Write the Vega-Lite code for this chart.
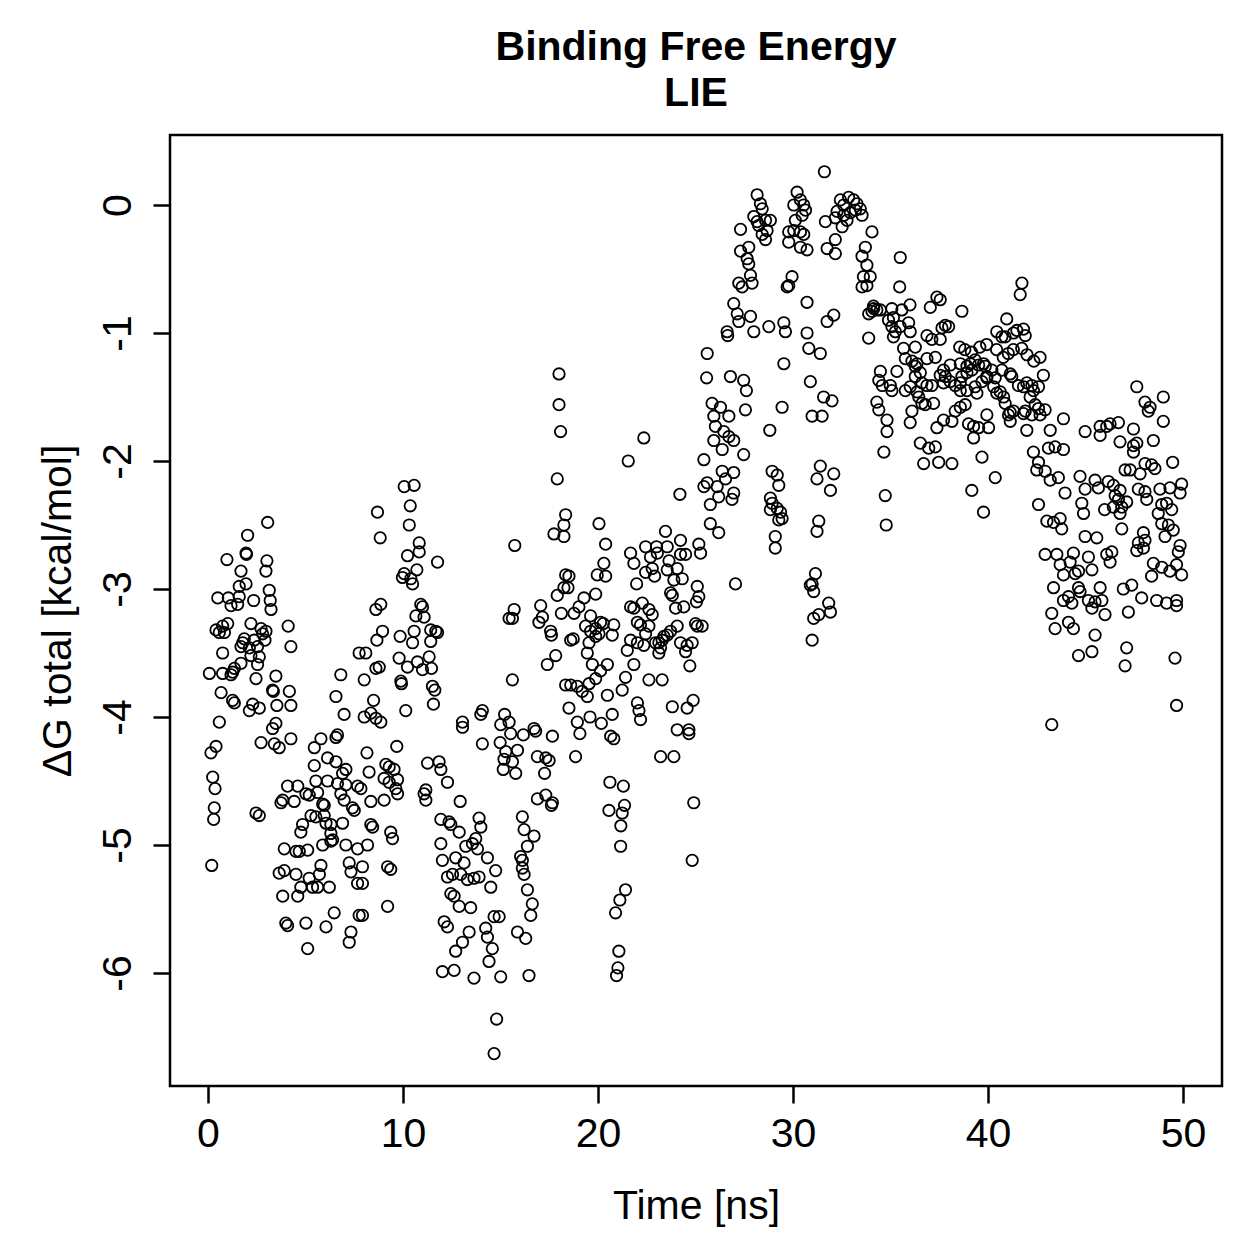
{
"$schema":"https://vega.github.io/schema/vega-lite/v6.json",
"width":1052,"height":951,
"autosize":{"type":"none"},
"padding":{"left":170,"top":135,"right":37,"bottom":173},
"background":"white",
"title":{"text":["Binding Free Energy","LIE"],"fontSize":41,"fontWeight":"bold","font":"Liberation Sans","color":"black","anchor":"middle","frame":"group","lineHeight":46,"offset":20},
"data":{"values":[
{"t":3.06,"g":-2.48},{"t":2.03,"g":-2.58},{"t":1.95,"g":-2.72},{"t":1.97,"g":-2.73},{"t":0.97,"g":-2.77},{"t":3.02,"g":-2.78},{"t":1.69,"g":-2.86},{"t":2.97,"g":-2.86},{"t":1.6,"g":-2.98},{"t":1.95,"g":-2.96},{"t":3.14,"g":-3.01},{"t":0.5,"g":-3.07},{"t":1.04,"g":-3.07},{"t":1.18,"g":-3.13},{"t":1.52,"g":-3.12},{"t":1.6,"g":-3.06},{"t":2.34,"g":-3.09},{"t":3.19,"g":-3.09},{"t":3.23,"g":-3.16},{"t":4.11,"g":-3.29},{"t":4.25,"g":-3.45},{"t":0.41,"g":-3.32},{"t":0.75,"g":-3.29},{"t":0.84,"g":-3.34},{"t":1.01,"g":-3.27},{"t":0.58,"g":-3.34},{"t":2.2,"g":-3.27},{"t":2.72,"g":-3.31},{"t":2.8,"g":-3.35},{"t":2.97,"g":-3.33},{"t":2.92,"g":-3.4},{"t":1.86,"g":-3.39},{"t":1.78,"g":-3.42},{"t":1.69,"g":-3.45},{"t":2.12,"g":-3.46},{"t":2.37,"g":-3.4},{"t":2.54,"g":-3.45},{"t":0.75,"g":-3.5},{"t":2.2,"g":-3.52},{"t":2.63,"g":-3.53},{"t":2.54,"g":-3.59},{"t":0.07,"g":-3.66},{"t":0.75,"g":-3.66},{"t":1.26,"g":-3.65},{"t":1.35,"g":-3.62},{"t":1.69,"g":-3.58},{"t":1.18,"g":-3.67},{"t":2.46,"g":-3.7},{"t":3.48,"g":-3.68},{"t":3.31,"g":-3.79},{"t":3.35,"g":-3.8},{"t":4.17,"g":-3.8},{"t":4.25,"g":-3.91},{"t":0.67,"g":-3.81},{"t":1.26,"g":-3.87},{"t":1.35,"g":-3.89},{"t":2.12,"g":-3.95},{"t":2.29,"g":-3.9},{"t":2.63,"g":-3.93},{"t":3.53,"g":-3.91},{"t":0.58,"g":-4.04},{"t":3.31,"g":-4.09},{"t":3.48,"g":-4.05},{"t":2.72,"g":-4.2},{"t":3.4,"g":-4.21},{"t":3.65,"g":-4.24},{"t":4.25,"g":-4.17},{"t":0.41,"g":-4.23},{"t":0.15,"g":-4.28},{"t":0.24,"g":-4.47},{"t":0.36,"g":-4.56},{"t":0.32,"g":-4.71},{"t":0.29,"g":-4.8},{"t":2.46,"g":-4.75},{"t":2.63,"g":-4.77},{"t":0.19,"g":-5.16},
{"t":6.81,"g":-3.67},{"t":7.75,"g":-3.5},{"t":6.56,"g":-3.84},{"t":6.98,"g":-3.98},{"t":6.64,"g":-4.14},{"t":6.56,"g":-4.16},{"t":5.79,"g":-4.17},{"t":5.45,"g":-4.24},{"t":5.45,"g":-4.38},{"t":6.13,"g":-4.32},{"t":6.56,"g":-4.35},{"t":7.07,"g":-4.41},{"t":6.9,"g":-4.44},{"t":6.64,"g":-4.52},{"t":7.07,"g":-4.53},{"t":6.13,"g":-4.5},{"t":5.53,"g":-4.5},{"t":4.08,"g":-4.54},{"t":4.6,"g":-4.54},{"t":5.02,"g":-4.6},{"t":5.19,"g":-4.61},{"t":5.62,"g":-4.59},{"t":3.83,"g":-4.65},{"t":3.74,"g":-4.67},{"t":4.42,"g":-4.66},{"t":5.88,"g":-4.68},{"t":6.98,"g":-4.65},{"t":6.81,"g":-4.6},{"t":7.41,"g":-4.71},{"t":7.5,"g":-4.73},{"t":7.67,"g":-4.54},{"t":5.96,"g":-4.69},{"t":5.28,"g":-4.77},{"t":5.53,"g":-4.78},{"t":5.96,"g":-4.77},{"t":6.05,"g":-4.83},{"t":6.3,"g":-4.84},{"t":6.9,"g":-4.83},{"t":4.85,"g":-4.84},{"t":4.76,"g":-4.9},{"t":6.3,"g":-4.91},{"t":6.39,"g":-4.96},{"t":5.88,"g":-5.0},{"t":6.3,"g":-4.97},{"t":3.91,"g":-5.03},{"t":4.51,"g":-5.05},{"t":4.68,"g":-5.05},{"t":5.11,"g":-5.04},{"t":7.07,"g":-5.0},{"t":7.24,"g":-5.14},{"t":7.33,"g":-5.21},{"t":7.67,"g":-5.03},{"t":7.67,"g":-5.3},{"t":3.65,"g":-5.22},{"t":3.91,"g":-5.2},{"t":4.51,"g":-5.23},{"t":4.76,"g":-5.33},{"t":5.19,"g":-5.26},{"t":5.36,"g":-5.33},{"t":5.79,"g":-5.16},{"t":5.71,"g":-5.23},{"t":5.62,"g":-5.33},{"t":6.22,"g":-5.33},{"t":3.83,"g":-5.4},{"t":4.6,"g":-5.4},{"t":6.47,"g":-5.53},{"t":5.02,"g":-5.61},{"t":3.99,"g":-5.61},{"t":4.08,"g":-5.63},{"t":6.05,"g":-5.64},{"t":7.33,"g":-5.68},{"t":7.24,"g":-5.76},{"t":5.11,"g":-5.81},{"t":7.75,"g":-5.55},
{"t":10.06,"g":-2.2},{"t":10.57,"g":-2.19},{"t":8.69,"g":-2.4},{"t":10.37,"g":-2.35},{"t":10.32,"g":-2.5},{"t":8.83,"g":-2.6},{"t":10.83,"g":-2.64},{"t":10.83,"g":-2.71},{"t":10.23,"g":-2.74},{"t":11.77,"g":-2.79},{"t":10.71,"g":-2.85},{"t":10.06,"g":-2.88},{"t":9.97,"g":-2.91},{"t":10.49,"g":-2.96},{"t":10.4,"g":-2.92},{"t":15.73,"g":-2.66},{"t":8.61,"g":-3.16},{"t":8.86,"g":-3.12},{"t":10.91,"g":-3.12},{"t":11.0,"g":-3.14},{"t":10.66,"g":-3.21},{"t":11.08,"g":-3.22},{"t":15.44,"g":-3.23},{"t":15.7,"g":-3.16},{"t":15.61,"g":-3.23},{"t":8.95,"g":-3.33},{"t":8.66,"g":-3.4},{"t":9.85,"g":-3.37},{"t":10.57,"g":-3.33},{"t":11.42,"g":-3.32},{"t":11.68,"g":-3.33},{"t":11.77,"g":-3.34},{"t":10.49,"g":-3.42},{"t":11.42,"g":-3.41},{"t":8.09,"g":-3.5},{"t":8.61,"g":-3.62},{"t":8.78,"g":-3.61},{"t":8.01,"g":-3.71},{"t":9.8,"g":-3.54},{"t":10.23,"g":-3.61},{"t":10.74,"g":-3.57},{"t":11.0,"g":-3.63},{"t":11.34,"g":-3.53},{"t":11.46,"g":-3.62},{"t":9.89,"g":-3.72},{"t":9.92,"g":-3.74},{"t":11.51,"g":-3.76},{"t":11.63,"g":-3.79},{"t":11.56,"g":-3.9},{"t":10.14,"g":-3.95},{"t":15.61,"g":-3.71},{"t":8.49,"g":-3.87},{"t":8.35,"g":-3.97},{"t":8.61,"g":-4.01},{"t":8.86,"g":-4.04},{"t":8.01,"g":-4.0},{"t":13.05,"g":-4.04},{"t":13.05,"g":-4.08},{"t":14.07,"g":-3.95},{"t":13.99,"g":-3.98},{"t":15.21,"g":-3.98},{"t":15.44,"g":-4.04},{"t":15.01,"g":-4.06},{"t":15.52,"g":-4.13},{"t":16.17,"g":-4.14},{"t":16.72,"g":-4.09},{"t":16.8,"g":-4.11},{"t":14.07,"g":-4.21},{"t":14.98,"g":-4.2},{"t":15.27,"g":-4.27},{"t":15.87,"g":-4.26},{"t":15.18,"g":-4.33},{"t":15.61,"g":-4.35},{"t":15.14,"g":-4.41},{"t":15.78,"g":-4.44},{"t":8.15,"g":-4.28},{"t":9.68,"g":-4.23},{"t":8.26,"g":-4.43},{"t":9.12,"g":-4.37},{"t":9.29,"g":-4.39},{"t":9.54,"g":-4.41},{"t":9.03,"g":-4.48},{"t":9.29,"g":-4.51},{"t":9.72,"g":-4.49},{"t":9.63,"g":-4.56},{"t":9.72,"g":-4.6},{"t":9.03,"g":-4.65},{"t":8.35,"g":-4.66},{"t":7.84,"g":-4.56},{"t":11.26,"g":-4.36},{"t":11.85,"g":-4.35},{"t":11.94,"g":-4.41},{"t":12.28,"g":-4.51},{"t":11.17,"g":-4.57},{"t":11.17,"g":-4.65},{"t":12.93,"g":-4.66},{"t":11.08,"g":-4.6},{"t":8.35,"g":-4.84},{"t":8.44,"g":-4.86},{"t":9.37,"g":-4.9},{"t":9.46,"g":-4.95},{"t":8.18,"g":-5.0},{"t":7.92,"g":-5.17},{"t":7.92,"g":-5.3},{"t":9.21,"g":-5.17},{"t":9.37,"g":-5.19},{"t":9.21,"g":-5.48},{"t":7.92,"g":-5.55},
{"t":11.94,"g":-4.8},{"t":12.36,"g":-4.82},{"t":12.45,"g":-4.84},{"t":12.88,"g":-4.9},{"t":11.94,"g":-4.99},{"t":12.02,"g":-5.12},{"t":12.7,"g":-5.1},{"t":13.13,"g":-5.14},{"t":13.22,"g":-5.01},{"t":13.56,"g":-4.99},{"t":13.73,"g":-4.95},{"t":13.9,"g":-4.79},{"t":13.99,"g":-4.86},{"t":13.82,"g":-5.03},{"t":14.33,"g":-5.1},{"t":14.75,"g":-5.2},{"t":12.28,"g":-5.25},{"t":12.54,"g":-5.23},{"t":12.96,"g":-5.23},{"t":13.3,"g":-5.27},{"t":13.64,"g":-5.26},{"t":13.9,"g":-5.25},{"t":14.5,"g":-5.33},{"t":12.45,"g":-5.38},{"t":12.62,"g":-5.4},{"t":12.88,"g":-5.48},{"t":13.47,"g":-5.49},{"t":12.11,"g":-5.6},{"t":12.28,"g":-5.64},{"t":13.05,"g":-5.76},{"t":13.39,"g":-5.68},{"t":12.7,"g":-5.83},{"t":14.24,"g":-5.65},{"t":14.33,"g":-5.72},{"t":14.58,"g":-5.81},{"t":14.41,"g":-5.91},{"t":14.67,"g":-5.56},{"t":14.93,"g":-5.56},{"t":12.02,"g":-5.99},{"t":12.62,"g":-5.98},{"t":13.64,"g":-6.04},{"t":15.01,"g":-6.03},{"t":15.87,"g":-5.68},{"t":16.29,"g":-5.73},{"t":16.46,"g":-6.02},{"t":16.12,"g":-4.78},{"t":16.21,"g":-4.88},{"t":16.03,"g":-5.09},{"t":16.12,"g":-5.12},{"t":16.38,"g":-5.01},{"t":16.72,"g":-4.93},{"t":16.38,"g":-5.35},{"t":16.63,"g":-5.46},{"t":16.55,"g":-5.55},{"t":16.12,"g":-5.18},{"t":16.21,"g":-5.23},{"t":14.8,"g":-6.36},{"t":14.67,"g":-6.63},
{"t":18.0,"g":-1.32},{"t":18.0,"g":-1.56},{"t":18.08,"g":-1.77},{"t":22.35,"g":-1.82},{"t":21.55,"g":-2.0},{"t":17.91,"g":-2.14},{"t":24.2,"g":-2.26},{"t":18.34,"g":-2.42},{"t":18.25,"g":-2.5},{"t":17.74,"g":-2.57},{"t":18.25,"g":-2.59},{"t":20.05,"g":-2.49},{"t":20.39,"g":-2.65},{"t":23.46,"g":-2.55},{"t":24.23,"g":-2.62},{"t":25.17,"g":-2.65},{"t":25.26,"g":-2.72},{"t":21.67,"g":-2.72},{"t":21.84,"g":-2.8},{"t":22.44,"g":-2.67},{"t":23.0,"g":-2.67},{"t":22.69,"g":-2.75},{"t":23.04,"g":-2.72},{"t":23.55,"g":-2.67},{"t":23.64,"g":-2.78},{"t":24.23,"g":-2.73},{"t":24.49,"g":-2.73},{"t":22.78,"g":-2.84},{"t":22.9,"g":-2.9},{"t":22.44,"g":-2.87},{"t":23.55,"g":-2.85},{"t":24.06,"g":-2.84},{"t":24.32,"g":-2.92},{"t":23.89,"g":-2.93},{"t":20.3,"g":-2.8},{"t":19.96,"g":-2.89},{"t":20.39,"g":-2.9},{"t":18.34,"g":-2.89},{"t":18.51,"g":-2.9},{"t":18.25,"g":-2.99},{"t":18.46,"g":-2.99},{"t":17.91,"g":-3.05},{"t":19.28,"g":-3.07},{"t":19.88,"g":-3.04},{"t":19.02,"g":-3.14},{"t":18.77,"g":-3.19},{"t":18.12,"g":-3.19},{"t":21.98,"g":-2.96},{"t":23.81,"g":-3.05},{"t":23.72,"g":-3.03},{"t":23.98,"g":-3.15},{"t":24.4,"g":-3.14},{"t":25.09,"g":-2.98},{"t":25.17,"g":-3.06},{"t":25.05,"g":-3.1},{"t":17.06,"g":-3.13},{"t":17.15,"g":-3.22},{"t":16.97,"g":-3.26},{"t":17.57,"g":-3.33},{"t":17.61,"g":-3.36},{"t":18.6,"g":-3.4},{"t":18.73,"g":-3.39},{"t":19.62,"g":-3.21},{"t":20.13,"g":-3.26},{"t":20.27,"g":-3.27},{"t":20.81,"g":-3.28},{"t":19.36,"g":-3.29},{"t":19.62,"g":-3.33},{"t":19.88,"g":-3.31},{"t":20.05,"g":-3.35},{"t":19.88,"g":-3.37},{"t":20.73,"g":-3.36},{"t":19.54,"g":-3.42},{"t":19.45,"g":-3.5},{"t":19.71,"g":-3.59},{"t":20.48,"g":-3.59},{"t":20.13,"g":-3.64},{"t":19.88,"g":-3.7},{"t":19.54,"g":-3.74},{"t":21.67,"g":-3.14},{"t":21.84,"g":-3.15},{"t":22.27,"g":-3.11},{"t":22.61,"g":-3.16},{"t":22.78,"g":-3.2},{"t":22.02,"g":-3.26},{"t":22.18,"g":-3.28},{"t":22.61,"g":-3.29},{"t":22.44,"g":-3.35},{"t":21.67,"g":-3.4},{"t":21.5,"g":-3.48},{"t":21.84,"g":-3.59},{"t":21.41,"g":-3.69},{"t":22.02,"g":-3.42},{"t":22.35,"g":-3.44},{"t":22.95,"g":-3.42},{"t":23.12,"g":-3.42},{"t":23.29,"g":-3.4},{"t":23.38,"g":-3.37},{"t":23.55,"g":-3.36},{"t":23.72,"g":-3.33},{"t":24.06,"g":-3.29},{"t":23.21,"g":-3.46},{"t":23.12,"g":-3.5},{"t":24.23,"g":-3.42},{"t":24.57,"g":-3.44},{"t":24.83,"g":-3.42},{"t":24.49,"g":-3.49},{"t":24.71,"g":-3.6},{"t":25.09,"g":-3.29},{"t":25.34,"g":-3.29},{"t":25.0,"g":-3.27},{"t":17.4,"g":-3.59},{"t":17.83,"g":-3.52},{"t":18.34,"g":-3.75},{"t":18.6,"g":-3.75},{"t":18.94,"g":-3.76},{"t":19.19,"g":-3.8},{"t":19.45,"g":-3.84},{"t":18.51,"g":-3.93},{"t":18.94,"g":-4.04},{"t":19.07,"g":-4.13},{"t":19.59,"g":-4.0},{"t":20.17,"g":-4.05},{"t":20.73,"g":-3.98},{"t":20.48,"g":-3.83},{"t":20.65,"g":-4.15},{"t":20.81,"g":-4.17},{"t":21.24,"g":-3.79},{"t":22.02,"g":-3.89},{"t":22.1,"g":-3.95},{"t":22.18,"g":-4.02},{"t":22.61,"g":-3.71},{"t":23.29,"g":-3.71},{"t":23.81,"g":-3.92},{"t":24.57,"g":-3.93},{"t":24.88,"g":-3.87},{"t":24.06,"g":-4.1},{"t":24.66,"g":-4.1},{"t":24.66,"g":-4.13},{"t":17.66,"g":-4.15},{"t":16.89,"g":-4.31},{"t":17.32,"g":-4.32},{"t":17.49,"g":-4.34},{"t":17.26,"g":-4.44},{"t":18.85,"g":-4.31},{"t":23.21,"g":-4.31},{"t":23.89,"g":-4.31},{"t":20.61,"g":-4.51},{"t":21.3,"g":-4.54},{"t":16.89,"g":-4.64},{"t":17.32,"g":-4.61},{"t":17.66,"g":-4.67},{"t":20.56,"g":-4.73},{"t":21.24,"g":-4.75},{"t":21.36,"g":-4.69},{"t":24.91,"g":-4.67},
{"t":24.83,"g":-5.12},{"t":21.17,"g":-4.85},{"t":21.16,"g":-5.01},{"t":21.41,"g":-5.35},{"t":21.12,"g":-5.43},{"t":20.9,"g":-5.53},{"t":21.07,"g":-5.83},{"t":21.02,"g":-5.96},{"t":20.95,"g":-6.02},{"t":17.61,"g":-4.69},
{"t":31.61,"g":0.26},{"t":28.16,"g":0.08},{"t":28.33,"g":0.01},{"t":28.42,"g":-0.03},{"t":27.99,"g":-0.09},{"t":28.16,"g":-0.13},{"t":28.59,"g":-0.12},{"t":28.24,"g":-0.16},{"t":28.67,"g":-0.2},{"t":28.42,"g":-0.23},{"t":28.59,"g":-0.27},{"t":28.84,"g":-0.12},{"t":27.31,"g":-0.19},{"t":27.73,"g":-0.33},{"t":27.31,"g":-0.36},{"t":27.65,"g":-0.42},{"t":27.73,"g":-0.46},{"t":27.82,"g":-0.55},{"t":27.9,"g":-0.61},{"t":27.22,"g":-0.61},{"t":27.39,"g":-0.64},{"t":26.96,"g":-0.77},{"t":27.14,"g":-0.85},{"t":27.22,"g":-0.91},{"t":27.82,"g":-0.87},{"t":27.99,"g":-0.99},{"t":26.62,"g":-0.99},{"t":26.65,"g":-1.02},{"t":28.76,"g":-0.95},{"t":29.53,"g":-0.92},{"t":29.61,"g":-0.99},{"t":30.21,"g":0.1},{"t":30.04,"g":0.0},{"t":30.38,"g":0.04},{"t":30.55,"g":0.0},{"t":30.64,"g":-0.04},{"t":30.47,"g":-0.08},{"t":30.12,"g":-0.12},{"t":30.04,"g":-0.2},{"t":29.78,"g":-0.21},{"t":30.38,"g":-0.21},{"t":30.55,"g":-0.23},{"t":29.78,"g":-0.29},{"t":30.38,"g":-0.33},{"t":30.72,"g":-0.35},{"t":29.95,"g":-0.56},{"t":29.78,"g":-0.63},{"t":29.7,"g":-0.64},{"t":30.72,"g":-0.76},{"t":31.66,"g":-0.13},{"t":31.75,"g":-0.34},{"t":32.17,"g":-0.27},{"t":32.17,"g":-0.38},{"t":32.43,"g":0.04},{"t":32.6,"g":0.0},{"t":32.85,"g":0.06},{"t":33.11,"g":0.04},{"t":33.28,"g":0.01},{"t":33.45,"g":-0.03},{"t":33.54,"g":-0.08},{"t":32.94,"g":-0.06},{"t":32.6,"g":-0.08},{"t":32.52,"g":-0.17},{"t":32.26,"g":-0.05},{"t":32.17,"g":-0.1},{"t":32.77,"g":-0.12},{"t":33.2,"g":-0.04},{"t":34.05,"g":-0.21},{"t":33.71,"g":-0.33},{"t":33.54,"g":-0.4},{"t":33.79,"g":-0.47},{"t":33.61,"g":-0.56},{"t":33.96,"g":-0.56},{"t":33.54,"g":-0.64},{"t":33.79,"g":-0.63},{"t":34.13,"g":-0.79},{"t":33.88,"g":-0.85},{"t":33.88,"g":-1.04},{"t":30.72,"g":-1.0},{"t":30.81,"g":-1.12},{"t":31.4,"g":-1.16},{"t":29.53,"g":-1.24},{"t":30.89,"g":-1.38},{"t":31.57,"g":-1.5},{"t":32.0,"g":-1.53},{"t":30.98,"g":-1.65},{"t":31.49,"g":-1.65},{"t":29.44,"g":-1.58},{"t":28.81,"g":-1.76},{"t":31.75,"g":-0.91},{"t":32.09,"g":-0.86},
{"t":25.6,"g":-1.16},{"t":25.57,"g":-1.35},{"t":26.79,"g":-1.34},{"t":27.47,"g":-1.37},{"t":27.61,"g":-1.45},{"t":25.85,"g":-1.55},{"t":26.28,"g":-1.58},{"t":26.71,"g":-1.65},{"t":25.94,"g":-1.65},{"t":26.02,"g":-1.73},{"t":26.45,"g":-1.77},{"t":26.71,"g":-1.81},{"t":26.96,"g":-1.84},{"t":25.94,"g":-1.84},{"t":26.37,"g":-1.91},{"t":27.56,"g":-1.6},{"t":27.47,"g":-1.95},{"t":25.43,"g":-1.99},{"t":26.37,"g":-2.08},{"t":26.96,"g":-2.09},{"t":26.54,"g":-2.14},{"t":25.6,"g":-2.17},{"t":25.43,"g":-2.2},{"t":26.11,"g":-2.2},{"t":26.96,"g":-2.25},{"t":26.19,"g":-2.28},{"t":25.76,"g":-2.34},{"t":26.87,"g":-2.3},{"t":25.76,"g":-2.49},{"t":26.19,"g":-2.56},{"t":27.05,"g":-2.96},{"t":28.93,"g":-2.08},{"t":29.19,"g":-2.11},{"t":29.27,"g":-2.19},{"t":28.84,"g":-2.29},{"t":28.93,"g":-2.33},{"t":29.19,"g":-2.37},{"t":29.36,"g":-2.4},{"t":29.44,"g":-2.45},{"t":29.27,"g":-2.46},{"t":29.09,"g":-2.59},{"t":29.09,"g":-2.68},{"t":28.84,"g":-2.38},{"t":31.4,"g":-2.04},{"t":31.23,"g":-2.14},{"t":32.09,"g":-2.1},{"t":31.92,"g":-2.23},{"t":31.32,"g":-2.47},{"t":31.23,"g":-2.55},{"t":31.15,"g":-2.88},{"t":30.98,"g":-2.96},{"t":31.06,"g":-3.02},{"t":31.83,"g":-3.11},{"t":31.92,"g":-3.18},{"t":31.32,"g":-3.2},{"t":31.06,"g":-3.23},{"t":30.89,"g":-2.97},{"t":30.98,"g":-3.4},
{"t":35.5,"g":-0.41},{"t":35.47,"g":-0.64},{"t":34.14,"g":-0.81},{"t":34.3,"g":-0.82},{"t":34.05,"g":-0.83},{"t":34.48,"g":-0.82},{"t":35.07,"g":-0.81},{"t":35.58,"g":-0.82},{"t":36.0,"g":-0.78},{"t":37.38,"g":-0.72},{"t":37.55,"g":-0.74},{"t":37.04,"g":-0.8},{"t":38.66,"g":-0.83},{"t":41.74,"g":-0.61},{"t":41.65,"g":-0.7},{"t":34.9,"g":-0.9},{"t":35.15,"g":-0.88},{"t":35.07,"g":-0.95},{"t":35.25,"g":-0.99},{"t":35.5,"g":-0.95},{"t":35.93,"g":-0.92},{"t":36.01,"g":-0.99},{"t":35.15,"g":-1.03},{"t":36.87,"g":-1.02},{"t":37.12,"g":-1.05},{"t":37.55,"g":-1.05},{"t":37.81,"g":-0.94},{"t":37.98,"g":-0.95},{"t":37.64,"g":-0.96},{"t":40.96,"g":-0.89},{"t":40.45,"g":-0.99},{"t":40.71,"g":-1.03},{"t":40.88,"g":-1.03},{"t":41.31,"g":-1.0},{"t":41.48,"g":-0.98},{"t":41.82,"g":-0.97},{"t":41.91,"g":-1.02},{"t":36.27,"g":-1.11},{"t":35.67,"g":-1.12},{"t":35.76,"g":-1.2},{"t":36.87,"g":-1.2},{"t":37.3,"g":-1.19},{"t":38.55,"g":-1.11},{"t":38.81,"g":-1.13},{"t":39.15,"g":-1.15},{"t":39.58,"g":-1.11},{"t":39.93,"g":-1.09},{"t":40.44,"g":-1.13},{"t":40.78,"g":-1.19},{"t":41.04,"g":-1.16},{"t":41.3,"g":-1.13},{"t":41.73,"g":-1.12},{"t":42.0,"g":-1.17},{"t":42.35,"g":-1.22},{"t":36.1,"g":-1.22},{"t":36.36,"g":-1.24},{"t":36.27,"g":-1.26},{"t":37.72,"g":-1.29},{"t":38.06,"g":-1.25},{"t":38.58,"g":-1.24},{"t":38.92,"g":-1.26},{"t":39.09,"g":-1.24},{"t":39.34,"g":-1.21},{"t":39.52,"g":-1.25},{"t":39.77,"g":-1.24},{"t":39.86,"g":-1.26},{"t":40.2,"g":-1.29},{"t":39.94,"g":-1.34},{"t":40.37,"g":-1.35},{"t":40.71,"g":-1.29},{"t":41.14,"g":-1.32},{"t":41.22,"g":-1.34},{"t":42.67,"g":-1.19},{"t":34.48,"g":-1.3},{"t":34.4,"g":-1.37},{"t":34.58,"g":-1.41},{"t":34.99,"g":-1.41},{"t":35.07,"g":-1.45},{"t":35.33,"g":-1.3},{"t":35.76,"g":-1.45},{"t":36.01,"g":-1.42},{"t":36.27,"g":-1.34},{"t":36.53,"g":-1.31},{"t":36.61,"g":-1.39},{"t":36.87,"g":-1.41},{"t":37.12,"g":-1.41},{"t":36.36,"g":-1.46},{"t":36.45,"g":-1.5},{"t":36.61,"g":-1.55},{"t":36.78,"g":-1.56},{"t":37.21,"g":-1.55},{"t":36.1,"g":-1.61},{"t":37.55,"g":-1.33},{"t":37.81,"g":-1.34},{"t":37.72,"g":-1.39},{"t":38.06,"g":-1.38},{"t":38.32,"g":-1.41},{"t":38.58,"g":-1.39},{"t":38.66,"g":-1.34},{"t":38.92,"g":-1.31},{"t":39.17,"g":-1.29},{"t":38.58,"g":-1.45},{"t":38.92,"g":-1.45},{"t":39.34,"g":-1.42},{"t":39.43,"g":-1.47},{"t":39.69,"g":-1.38},{"t":39.94,"g":-1.35},{"t":40.29,"g":-1.42},{"t":40.45,"g":-1.47},{"t":40.63,"g":-1.46},{"t":40.8,"g":-1.5},{"t":40.88,"g":-1.55},{"t":41.14,"g":-1.62},{"t":41.31,"g":-1.61},{"t":41.56,"g":-1.41},{"t":41.82,"g":-1.42},{"t":41.99,"g":-1.39},{"t":42.25,"g":-1.41},{"t":42.33,"g":-1.45},{"t":42.16,"g":-1.5},{"t":42.42,"g":-1.56},{"t":42.59,"g":-1.59},{"t":41.91,"g":-1.61},{"t":41.99,"g":-1.76},{"t":42.25,"g":-1.64},{"t":38.32,"g":-1.61},{"t":38.58,"g":-1.58},{"t":38.83,"g":-1.56},{"t":38.15,"g":-1.69},{"t":37.72,"g":-1.68},{"t":37.38,"g":-1.74},{"t":39.0,"g":-1.71},{"t":39.26,"g":-1.73},{"t":39.52,"g":-1.74},{"t":39.26,"g":-1.82},{"t":39.94,"g":-1.64},{"t":40.03,"g":-1.74},{"t":41.05,"g":-1.64},{"t":41.14,"g":-1.69},{"t":41.82,"g":-1.63},{"t":34.3,"g":-1.54},{"t":34.4,"g":-1.6},{"t":34.82,"g":-1.68},{"t":34.82,"g":-1.77},{"t":36.01,"g":-1.7},{"t":34.66,"g":-1.93},{"t":36.53,"g":-1.86},{"t":36.96,"g":-1.9},{"t":37.3,"g":-1.89},{"t":36.7,"g":-2.02},{"t":37.47,"g":-2.01},{"t":38.15,"g":-2.02},{"t":39.69,"g":-1.97},{"t":40.37,"g":-2.13},{"t":39.17,"g":-2.23},{"t":39.77,"g":-2.4},{"t":34.73,"g":-2.27},{"t":34.78,"g":-2.5},{"t":42.33,"g":-1.93},{"t":42.5,"g":-2.07},{"t":42.59,"g":-2.34},
{"t":42.84,"g":-1.33},{"t":42.59,"g":-1.42},{"t":42.93,"g":-1.6},{"t":42.67,"g":-1.64},{"t":43.87,"g":-1.67},{"t":43.19,"g":-1.76},{"t":43.1,"g":-1.9},{"t":43.44,"g":-1.89},{"t":43.87,"g":-1.91},{"t":42.59,"g":-2.01},{"t":42.93,"g":-2.08},{"t":43.19,"g":-2.15},{"t":43.61,"g":-2.13},{"t":43.95,"g":-2.25},{"t":43.02,"g":-2.47},{"t":43.36,"g":-2.48},{"t":43.7,"g":-2.45},{"t":43.78,"g":-2.53},{"t":44.98,"g":-1.77},{"t":45.75,"g":-1.73},{"t":45.75,"g":-1.8},{"t":46.26,"g":-1.71},{"t":46.69,"g":-1.7},{"t":46.09,"g":-1.73},{"t":44.72,"g":-2.12},{"t":44.98,"g":-2.22},{"t":45.66,"g":-2.21},{"t":45.49,"g":-2.15},{"t":46.17,"g":-2.16},{"t":46.43,"g":-2.19},{"t":46.52,"g":-2.27},{"t":46.77,"g":-2.23},{"t":46.69,"g":-2.3},{"t":46.86,"g":-2.36},{"t":47.11,"g":-2.32},{"t":45.98,"g":-2.38},{"t":46.43,"g":-2.36},{"t":44.81,"g":-2.33},{"t":44.9,"g":-2.41},{"t":46.77,"g":-2.41},{"t":44.98,"g":-2.59},{"t":45.58,"g":-2.6},{"t":46.86,"g":-2.53},{"t":47.63,"g":-1.42},{"t":48.05,"g":-1.54},{"t":48.31,"g":-1.58},{"t":48.22,"g":-1.61},{"t":48.99,"g":-1.5},{"t":48.99,"g":-1.69},{"t":47.46,"g":-1.75},{"t":46.77,"g":-1.85},{"t":47.46,"g":-1.88},{"t":47.63,"g":-1.86},{"t":48.48,"g":-1.84},{"t":47.46,"g":-1.93},{"t":47.03,"g":-2.07},{"t":47.29,"g":-2.07},{"t":47.8,"g":-2.1},{"t":48.05,"g":-2.02},{"t":48.39,"g":-2.03},{"t":48.56,"g":-2.06},{"t":49.47,"g":-2.01},{"t":47.71,"g":-2.22},{"t":48.05,"g":-2.24},{"t":48.14,"g":-2.3},{"t":48.82,"g":-2.22},{"t":49.33,"g":-2.21},{"t":49.93,"g":-2.18},{"t":49.85,"g":-2.25},{"t":48.91,"g":-2.34},{"t":49.16,"g":-2.33},{"t":49.42,"g":-2.38},{"t":48.73,"g":-2.41},{"t":48.91,"g":-2.49},{"t":49.25,"g":-2.5},{"t":49.5,"g":-2.54},{"t":49.08,"g":-2.59},{"t":47.97,"g":-2.56},{"t":48.05,"g":-2.62},{"t":47.71,"g":-2.64},{"t":47.63,"g":-2.7},{"t":47.97,"g":-2.68},{"t":49.85,"g":-2.66},{"t":49.76,"g":-2.71},{"t":42.93,"g":-2.73},{"t":43.53,"g":-2.73},{"t":44.38,"g":-2.72},{"t":45.15,"g":-2.75},{"t":46.09,"g":-2.73},{"t":46.35,"g":-2.71},
{"t":43.7,"g":-2.81},{"t":44.21,"g":-2.79},{"t":44.47,"g":-2.88},{"t":43.87,"g":-2.89},{"t":44.64,"g":-2.86},{"t":45.33,"g":-2.85},{"t":46.26,"g":-2.79},{"t":48.48,"g":-2.8},{"t":48.91,"g":-2.83},{"t":49.33,"g":-2.86},{"t":49.67,"g":-2.81},{"t":49.93,"g":-2.89},{"t":48.39,"g":-2.9},{"t":43.36,"g":-2.99},{"t":44.13,"g":-3.06},{"t":43.87,"g":-3.09},{"t":44.3,"g":-3.11},{"t":44.64,"g":-2.99},{"t":44.72,"g":-3.02},{"t":45.15,"g":-3.09},{"t":45.49,"g":-3.1},{"t":45.84,"g":-3.09},{"t":45.75,"g":-2.99},{"t":45.33,"g":-3.15},{"t":46.0,"g":-3.2},{"t":46.94,"g":-3.0},{"t":47.37,"g":-2.97},{"t":47.88,"g":-3.07},{"t":48.65,"g":-3.09},{"t":49.16,"g":-3.11},{"t":49.67,"g":-3.09},{"t":49.67,"g":-3.13},{"t":43.27,"g":-3.19},{"t":43.44,"g":-3.31},{"t":44.13,"g":-3.26},{"t":44.38,"g":-3.31},{"t":47.2,"g":-3.18},{"t":45.49,"g":-3.36},{"t":45.33,"g":-3.49},{"t":44.64,"g":-3.52},{"t":47.11,"g":-3.46},{"t":47.03,"g":-3.6},{"t":49.59,"g":-3.54},{"t":49.67,"g":-3.91},{"t":43.27,"g":-4.06}
]},
"mark":{"type":"point","shape":"circle","filled":false,"stroke":"black","strokeWidth":1.8,"size":130,"opacity":1},
"encoding":{
"x":{"field":"t","type":"quantitative","scale":{"domain":[-1.95,52],"nice":false,"zero":false},
"axis":{"title":"Time [ns]","values":[0,10,20,30,40,50],"format":"d","grid":false,"domain":false,"ticks":true,"tickSize":17,"tickWidth":2.5,"tickColor":"black","labelFont":"Liberation Sans","labelFontSize":41,"labelColor":"black","labelBaseline":"alphabetic","labelPadding":43,"labelFlush":false,"labelOverlap":false,"labelBound":false,"titleFont":"Liberation Sans","titleFontSize":41,"titleFontWeight":"normal","titleColor":"black","titleBaseline":"alphabetic","titleY":132,"titleX":526,"titleAlign":"center"}},
"y":{"field":"g","type":"quantitative","scale":{"domain":[-6.883,0.547],"nice":false,"zero":false},
"axis":{"title":"ΔG total [kcal/mol]","values":[-6,-5,-4,-3,-2,-1,0],"labelExpr":"toString(datum.value)","grid":false,"domain":false,"ticks":true,"tickSize":17,"tickWidth":2.5,"tickColor":"black","labelFont":"Liberation Sans","labelFontSize":41,"labelColor":"black","labelAngle":270,"labelAlign":"center","labelBaseline":"alphabetic","labelPadding":23,"labelFlush":false,"labelOverlap":false,"labelBound":false,"titleFont":"Liberation Sans","titleFontSize":41,"titleFontWeight":"normal","titleColor":"black","titleAngle":270,"titleAlign":"center","titleBaseline":"alphabetic","titleX":-100,"titleY":475.5}}
},
"config":{"view":{"stroke":"black","strokeWidth":2.5}}
}
